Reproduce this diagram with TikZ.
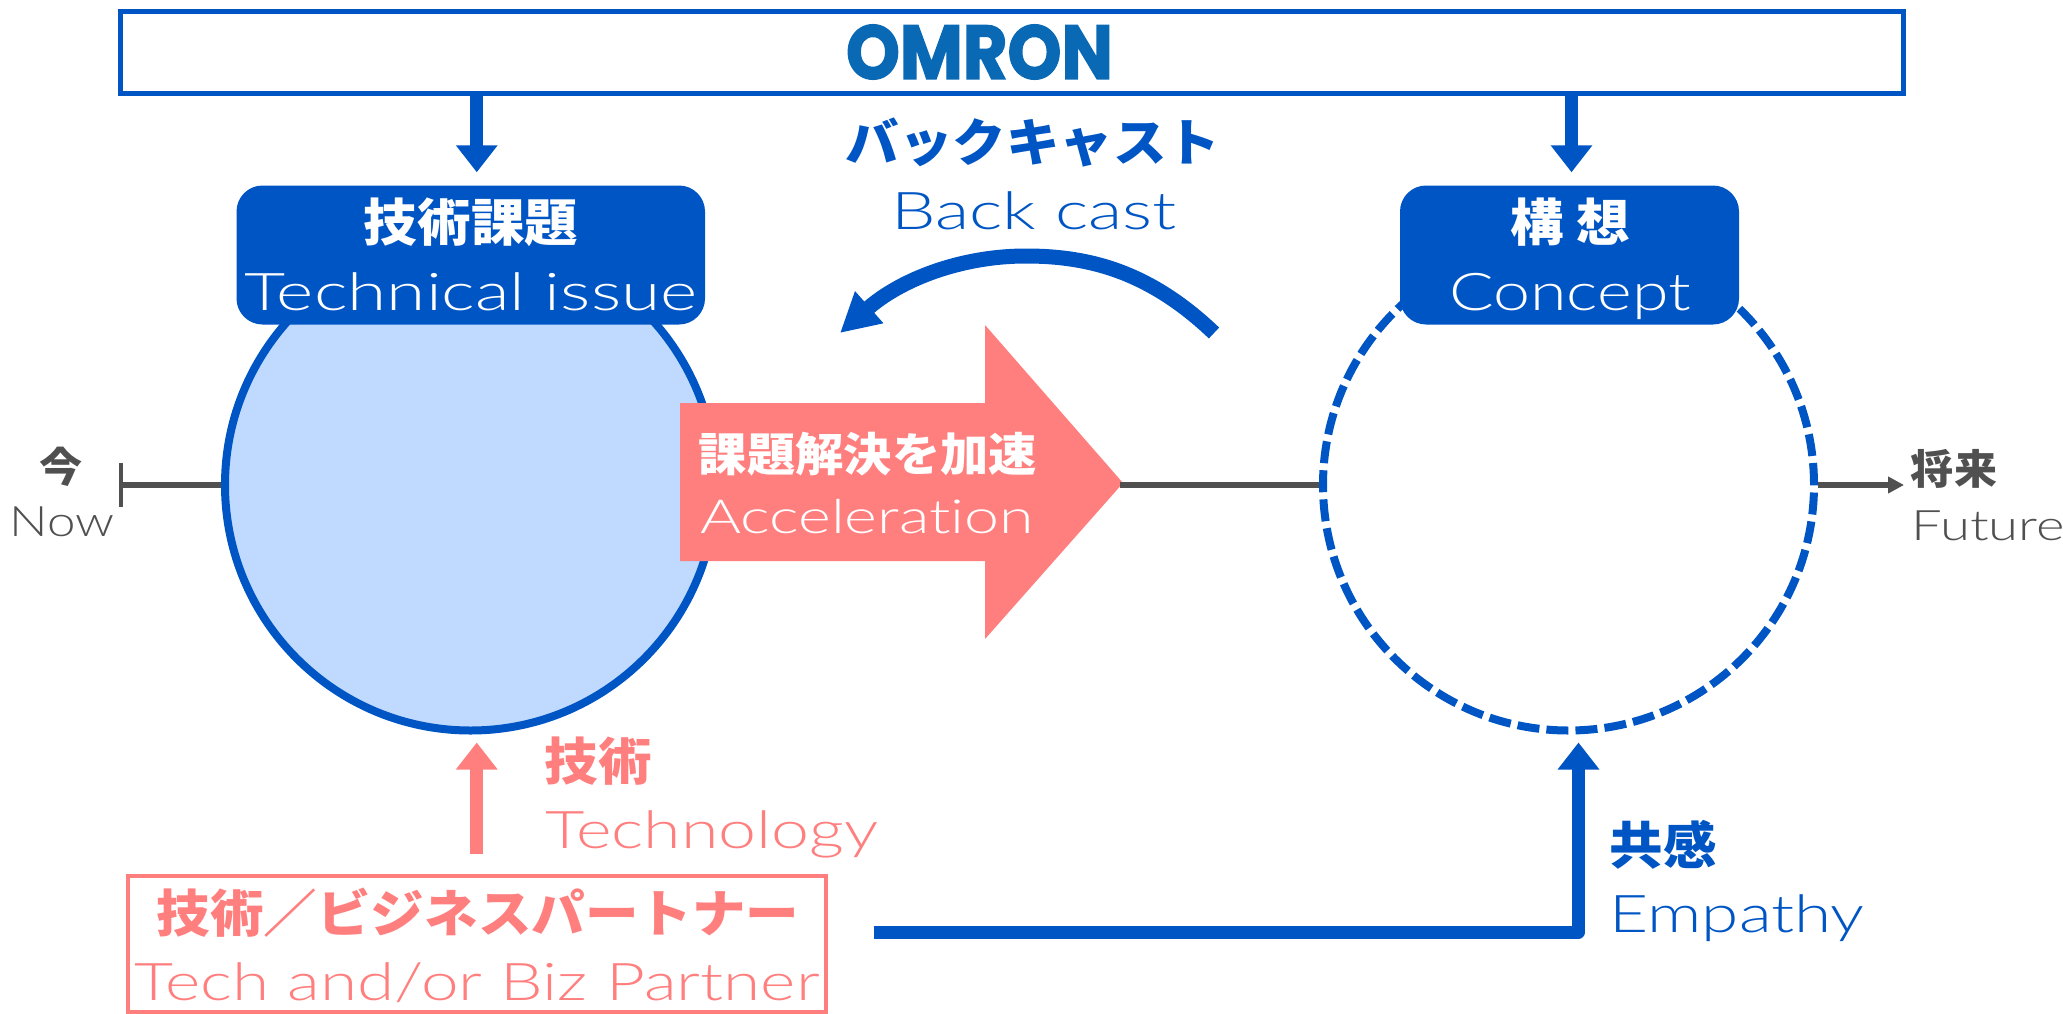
\documentclass[tikz,border=0pt]{standalone}
\usepackage{fontspec}
\newfontfamily\jpfont[FakeStretch=1.05]{Noto Sans CJK JP}
\newfontfamily\enfont[FakeStretch=1.18,Ligatures=NoCommon]{Lato Light}
\newfontfamily\logofont[BoldFeatures={FakeBold=2}]{Poppins}
\usetikzlibrary{arrows.meta,calc}
\definecolor{omronblue}{HTML}{0055C4}
\definecolor{logoblue}{HTML}{0A69B5}
\definecolor{lightblue}{HTML}{C0DAFF}
\definecolor{partnerpink}{HTML}{FF7F7F}
\definecolor{axisgrey}{HTML}{505050}
\newcommand{\widen}[2]{\scalebox{#1}[1]{#2}}
\tikzset{
  jptext/.style={anchor=base,inner sep=0pt,font=\jpfont\bfseries\fontsize{#1}{#1}\selectfont},
  entext/.style={anchor=base,inner sep=0pt,font=\enfont\fontsize{#1}{#1}\selectfont},
  blockarrow/.style={line width=13pt,line join=round,-{Triangle[length=27pt,width=40pt]}},
  axisline/.style={draw=axisgrey,line width=6.5pt},
  titlebox/.style={fill=omronblue,rounded corners=26pt,inner sep=0pt},
  bubble/.style={circle,inner sep=0pt,line width=8pt,minimum size=491pt,draw=omronblue}
}
\begin{document}
\begin{tikzpicture}[x=1pt,y=-1pt]
\useasboundingbox (0,0) rectangle (2063,1014);
\node[draw=omronblue,line width=5pt,inner sep=0pt,minimum width=1783pt,minimum height=82pt] (omron) at (1012,52.6) {};
\node[inner sep=0pt,text=logoblue] (logo) at (979.5,52) {\resizebox{267pt}{54pt}{\logofont\bfseries OMRON}};
\node[bubble,fill=lightblue] (techcircle) at (470.5,485) {};
\node[bubble,dash pattern=on 22pt off 7.1pt] (conceptcircle) at (1568.5,485) {};
\node[titlebox,minimum width=468.5pt,minimum height=139pt] (techbox) at (470.75,255) {};
\node[titlebox,minimum width=339pt,minimum height=139pt] (conceptbox) at (1569.5,255) {};
\node[draw=partnerpink,line width=4pt,inner sep=0pt,minimum width=698.5pt,minimum height=135.5pt] (partner) at (476.75,944) {};

\fill[partnerpink] (680,403) -- (985,403) -- (985,325) -- (1123,483) -- (985,639) -- (985,561) -- (680,561) -- cycle;
\coordinate (acceltip) at (1120,485);
\coordinate (nowend) at (119,485);
\coordinate (futureend) at (1904,485);
\coordinate (backfrom) at (1214,333);
\coordinate (backto) at (840,333);

\draw[axisline,{Bar[width=44pt,line width=4pt,sep=0pt]}-] (nowend) -- (techcircle.west);
\draw[axisline] (acceltip) -- (conceptcircle.west);
\draw[axisline,-{Triangle[length=16pt,width=16pt]}] (conceptcircle.east) -- (futureend);
\draw[blockarrow,draw=omronblue,shorten >=13pt] ([xshift=6pt]techbox.north |- omron.south) -- ([xshift=6pt]techbox.north);
\draw[blockarrow,draw=omronblue,shorten >=13pt] ([xshift=2pt]conceptbox.north |- omron.south) -- ([xshift=2pt]conceptbox.north);
\draw[blockarrow,draw=partnerpink,shorten <=20pt,shorten >=8pt] (partner.north) -- (partner.north |- techcircle.south);
\draw[blockarrow,draw=omronblue] ($(partner.east)+(46,-12)$) -| ($(conceptcircle.south)+(10,8)$);
\draw[draw=omronblue,line width=15pt,-{Triangle[length=39pt,width=40pt]}] (backfrom) .. controls (1150,272) and (1090,256) .. (1026,256) .. controls (960,256) and (900,280) .. (backto);

\node[jptext=51,text=white] (techjp) at (471,241) {技術課題};
\node[entext=52,text=white] (techen) at (471,310) {\widen{1.16}{Technical issue}};
\node[jptext=51,text=white] (conceptjp) at (1570,241) {構 想};
\node[entext=52,text=white] (concepten) at (1570,310) {\widen{1.08}{Concept}};
\node[jptext=51,text=omronblue] (backjp) at (1033,161) {バックキャスト};
\node[entext=52,text=omronblue] (backen) at (1034,229) {\widen{1.15}{Back cast}};
\node[jptext=46,text=white] (acceljp) at (868,471) {課題解決を加速};
\node[entext=47,text=white] (accelen) at (867,533) {\widen{1.13}{Acceleration}};
\node[jptext=41,text=axisgrey] (nowjp) at (61,482) {今};
\node[entext=42,text=axisgrey] (nowen) at (62,536) {\widen{1.03}{Now}};
\node[jptext=41,text=axisgrey] (futurejp) at (1954,484) {将来};
\node[entext=42,text=axisgrey] (futureen) at (1988,540) {\widen{1.1}{Future}};
\node[jptext=51,text=partnerpink] (technologyjp) at (598,780) {技術};
\node[entext=52,text=partnerpink] (technologyen) at (712,848) {\widen{1.11}{Technology}};
\node[jptext=51,text=partnerpink] (partnerjp) at (478,932) {技術／ビジネスパートナー};
\node[entext=52,text=partnerpink] (partneren) at (477,1000) {\widen{1.1}{Tech and/or Biz Partner}};
\node[jptext=51,text=omronblue] (empathyjp) at (1663,864) {共感};
\node[entext=52,text=omronblue] (empathyen) at (1737,932) {\widen{1.1}{Empathy}};
\end{tikzpicture}
\end{document}
